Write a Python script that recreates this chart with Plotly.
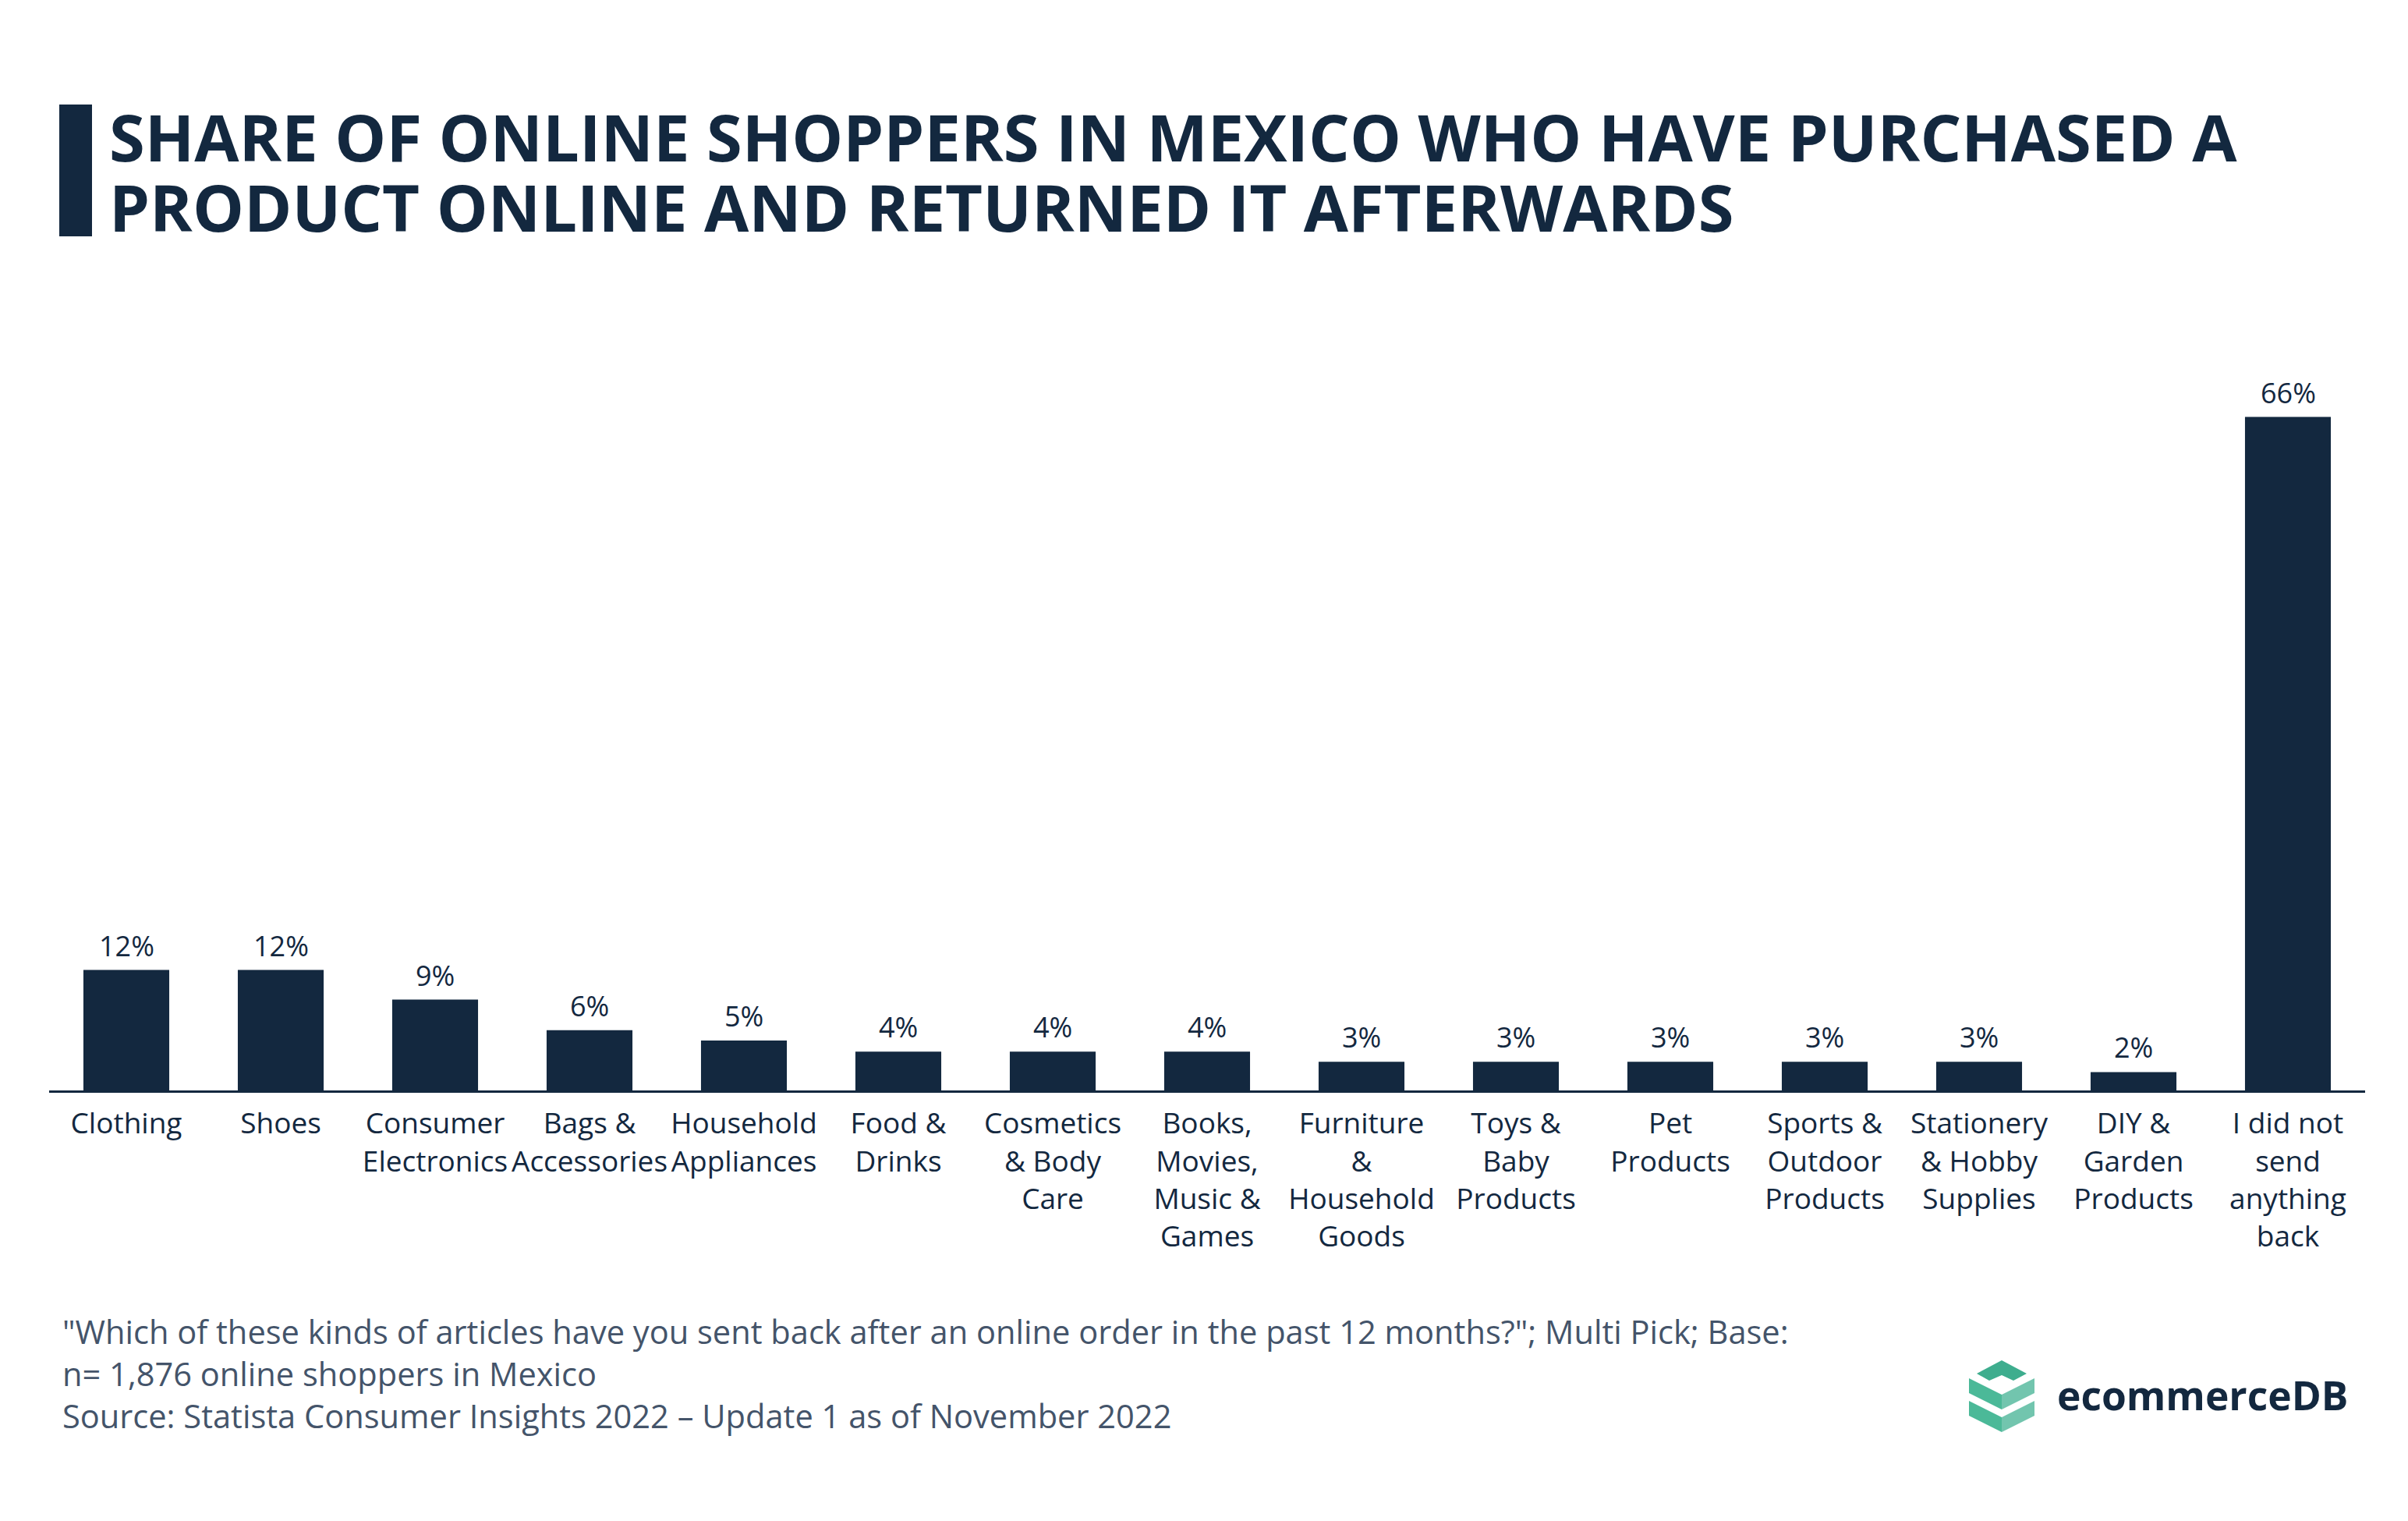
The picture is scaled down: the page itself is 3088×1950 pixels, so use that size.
import plotly.graph_objects as go

# ---------------- data ----------------
categories = ["Clothing", "Shoes", "Consumer Electronics", "Bags & Accessories",
              "Household Appliances", "Food & Drinks", "Cosmetics & Body Care",
              "Books, Movies, Music & Games", "Furniture & Household Goods",
              "Toys & Baby Products", "Pet Products", "Sports & Outdoor Products",
              "Stationery & Hobby Supplies", "DIY & Garden Products",
              "I did not send anything back"]
tick_labels = ["Clothing", "Shoes", "Consumer<br>Electronics", "Bags &<br>Accessories",
               "Household<br>Appliances", "Food &<br>Drinks", "Cosmetics<br>& Body<br>Care",
               "Books,<br>Movies,<br>Music &<br>Games", "Furniture<br>&<br>Household<br>Goods",
               "Toys &<br>Baby<br>Products", "Pet<br>Products", "Sports &<br>Outdoor<br>Products",
               "Stationery<br>& Hobby<br>Supplies", "DIY &<br>Garden<br>Products",
               "I did not<br>send<br>anything<br>back"]
values = [11.8, 11.8, 8.9, 5.9, 4.9, 3.8, 3.8, 3.8, 2.8, 2.8, 2.8, 2.8, 2.8, 1.8, 66.0]
value_labels = ["12%", "12%", "9%", "6%", "5%", "4%", "4%", "4%", "3%", "3%", "3%",
                "3%", "3%", "2%", "66%"]

title_lines = ["SHARE OF ONLINE SHOPPERS IN MEXICO WHO HAVE PURCHASED A",
               "PRODUCT ONLINE AND RETURNED IT AFTERWARDS"]
footer_lines = ['"Which of these kinds of articles have you sent back after an online order in the past 12 months?"; Multi Pick; Base:',
                "n= 1,876 online shoppers in Mexico",
                "Source: Statista Consumer Insights 2022 \u2013 Update 1 as of November 2022"]

# ---------------- layout constants ----------------
W, H = 3088, 1950
L, R, T, B = 63, 55, 456, 552
NAVY = "#13283F"
GREY = "#44546A"
FONT = "Open Sans"
PW = W - L - R
PH = H - T - B


def px(x):
    return (x - L) / PW


def py(y):
    return (H - B - y) / PH


fig = go.Figure()
fig.add_trace(go.Bar(x=categories, y=values, marker=dict(color=NAVY, line=dict(width=0)),
                     hoverinfo="skip", showlegend=False))

annotations = []
for c, v, t in zip(categories, values, value_labels):
    annotations.append(dict(x=c, y=v, xref="x", yref="y", text=t, showarrow=False,
                            yanchor="bottom", xanchor="center", yshift=5,
                            font=dict(family=FONT, size=36, color=NAVY)))

# title (two lines, tight leading)
for line, yc in zip(title_lines, [175, 265]):
    annotations.append(dict(x=px(138), y=py(yc), xref="paper", yref="paper", text="<b>%s</b>" % line,
                            showarrow=False, xanchor="left", yanchor="middle",
                            font=dict(family=FONT, size=83, color=NAVY)))
# footer
annotations.append(dict(x=px(78), y=py(1761), xref="paper", yref="paper", text="<br>".join(footer_lines),
                        showarrow=False, xanchor="left", yanchor="middle", align="left",
                        font=dict(family=FONT, size=41.6, color=GREY)))
# logo text
annotations.append(dict(x=px(2636), y=py(1788), xref="paper", yref="paper", text="<b>ecommerceDB</b>",
                        showarrow=False, xanchor="left", yanchor="middle",
                        font=dict(family=FONT, size=51.5, color=NAVY)))

shapes = []
# title bar
shapes.append(dict(type="rect", xref="paper", yref="paper", x0=px(76), x1=px(118), y0=py(134), y1=py(303),
                   fillcolor=NAVY, line=dict(width=0)))


def path(points):
    return "M " + " L ".join("%f,%f" % (px(a), py(b)) for a, b in points) + " Z"


logo_polys = [
    ([(2535, 1761), (2567, 1744), (2599, 1761), (2582, 1770), (2567, 1763), (2551, 1770)], "#3EAD8E"),
    ([(2525, 1767), (2567, 1788), (2567, 1807), (2525, 1786)], "#4BB998"),
    ([(2567, 1788), (2609, 1767), (2609, 1786), (2567, 1807)], "#72C5AE"),
    ([(2525, 1796), (2567, 1817), (2567, 1836), (2525, 1815)], "#4BB998"),
    ([(2567, 1817), (2609, 1796), (2609, 1815), (2567, 1836)], "#72C5AE"),
]
for pts, col in logo_polys:
    shapes.append(dict(type="path", xref="paper", yref="paper", path=path(pts),
                       fillcolor=col, line=dict(width=0)))

fig.update_layout(
    width=W, height=H,
    margin=dict(l=L, r=R, t=T, b=B, pad=0),
    paper_bgcolor="white", plot_bgcolor="white",
    bargap=0.444,
    annotations=annotations,
    shapes=shapes,
    font=dict(family=FONT, color=NAVY),
    xaxis=dict(tickmode="array", tickvals=categories, ticktext=tick_labels,
               tickfont=dict(family=FONT, size=37, color=NAVY),
               showline=True, linecolor=NAVY, linewidth=3, ticks="",
               ticklabelstandoff=8,
               showgrid=False, zeroline=False, fixedrange=True),
    yaxis=dict(range=[0, 72], visible=False, showgrid=False, zeroline=False, fixedrange=True),
)

fig.write_html("out.html")
